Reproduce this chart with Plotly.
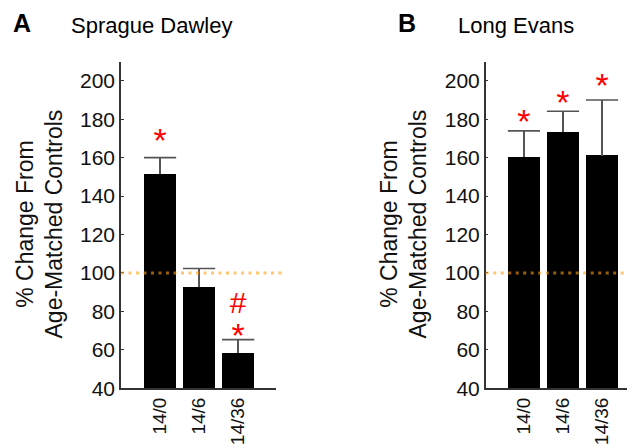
import plotly.graph_objects as go

# ---- data ----
categories = ["14/0", "14/6", "14/36"]
sd_values = [151.3, 92.8, 58.4]
sd_err_top = [160.0, 102.3, 65.3]
le_values = [160.1, 173.3, 161.0]
le_err_top = [173.9, 184.1, 190.0]
sd_star_y = [167.6, None, 65.9]
sd_hash_y = [None, None, 83.3]
le_star_y = [177.1, 187.1, 195.8]
ref_level = 100
y_ticks = [40, 60, 80, 100, 120, 140, 160, 180, 200]

W, H = 635, 448
OFF = 8  # page body margin of the browser
FONT = "Liberation Sans, Arial, sans-serif"

def px(x):
    return (x - OFF) / W

def py(y):
    return 1 - (y - OFF) / H

fig = go.Figure()

panels = [
    ("x", "y", sd_values, sd_err_top, sd_star_y, sd_hash_y),
    ("x2", "y2", le_values, le_err_top, le_star_y, [None, None, None]),
]
for xa, ya, vals, tops, stars, hashes in panels:
    errs = [t - v for t, v in zip(tops, vals)]
    fig.add_trace(go.Bar(
        x=categories, y=vals, xaxis=xa, yaxis=ya, width=0.82,
        marker=dict(color="black", line=dict(width=0)),
        error_y=dict(type="data", symmetric=False, array=errs,
                     arrayminus=[0] * len(errs), color="#555555",
                     thickness=1.6, width=0),
        showlegend=False,
    ))
    # whisker caps
    fig.add_trace(go.Scatter(
        x=categories, y=tops, xaxis=xa, yaxis=ya, mode="markers",
        marker=dict(symbol="line-ew", size=23,
                    line=dict(color="#555555", width=1.6)),
        showlegend=False, hoverinfo="skip",
    ))
    fig.add_trace(go.Scatter(
        x=categories, y=stars, xaxis=xa, yaxis=ya, mode="text",
        text=["*" if s is not None else "" for s in stars],
        textposition="middle center",
        textfont=dict(family=FONT, size=34, color="#ff0000"),
        showlegend=False, hoverinfo="skip",
    ))
    fig.add_trace(go.Scatter(
        x=categories, y=hashes, xaxis=xa, yaxis=ya, mode="text",
        text=["#" if s is not None else "" for s in hashes],
        textposition="middle center",
        textfont=dict(family=FONT, size=30, color="#ff0000"),
        showlegend=False, hoverinfo="skip",
    ))

yaxis_common = dict(
    range=[40, 209.6], tickvals=y_ticks, ticks="inside", ticklen=3,
    tickcolor="#333333", showline=True, linecolor="#333333", linewidth=1.5,
    showgrid=False, zeroline=False, automargin=False,
    tickfont=dict(family=FONT, size=21, color="#111111"),
)
xaxis_common = dict(
    type="category", tickangle=-90, ticks="", showline=True,
    linecolor="#333333", linewidth=1.5, showgrid=False, zeroline=False,
    automargin=False,
    tickfont=dict(family=FONT, size=19, color="#111111"),
)

fig.update_layout(
    width=W, height=H,
    margin=dict(l=0, r=0, t=0, b=0, autoexpand=False),
    paper_bgcolor="white", plot_bgcolor="white",
    bargap=0,
    xaxis=dict(domain=[px(121), px(276)], range=[-1.0, 2.97], anchor="y", **xaxis_common),
    yaxis=dict(domain=[py(388.3), py(62.3)], anchor="x", **yaxis_common),
    xaxis2=dict(domain=[px(485.7), 1.0], range=[-0.98, 3.05], anchor="y2", **xaxis_common),
    yaxis2=dict(domain=[py(388.3), py(62.3)], anchor="x2", **yaxis_common),
)

# dotted reference lines at 100 %
for x0, x1, yref in [(121, 285, "y"), (485.7, 643, "y2")]:
    fig.add_shape(type="line", xref="paper", yref=yref, x0=px(x0), x1=px(x1),
                  y0=ref_level, y1=ref_level, layer="above",
                  line=dict(color="rgba(255,160,20,0.6)", width=3, dash="3px,4.5px"))

annos = [
    dict(text="<b>A</b>", x=px(11), y=py(23), size=25),
    dict(text="Sprague Dawley", x=px(69), y=py(26), size=22),
    dict(text="<b>B</b>", x=px(396), y=py(23), size=25),
    dict(text="Long Evans", x=px(456), y=py(26), size=22),
]
for a in annos:
    fig.add_annotation(text=a["text"], x=a["x"], y=a["y"], xref="paper", yref="paper",
                       xanchor="left", yanchor="middle", showarrow=False,
                       font=dict(family=FONT, size=a["size"], color="black"))

for cx in (39.5, 403.5):
    fig.add_annotation(text="% Change From<br>Age-Matched Controls", textangle=-90,
                       x=px(cx), y=py(224), xref="paper", yref="paper",
                       xanchor="center", yanchor="middle", showarrow=False,
                       font=dict(family=FONT, size=23, color="#111111"))

fig.write_html("out.html")
